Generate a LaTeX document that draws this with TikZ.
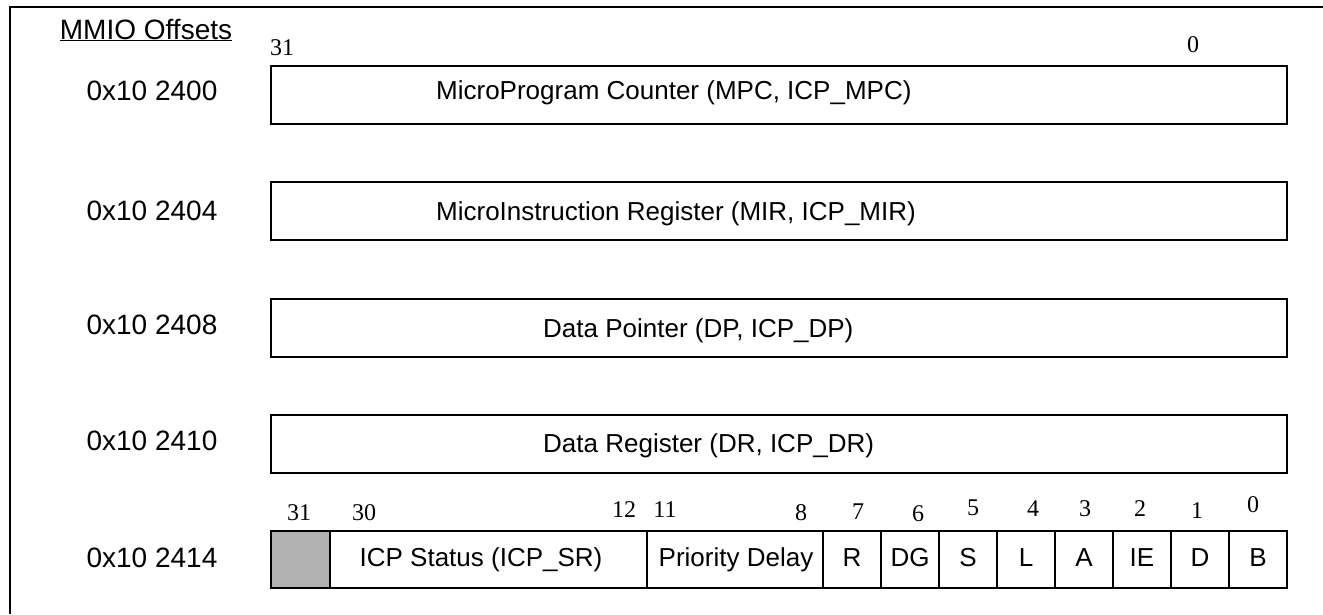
\documentclass[tikz,border=0pt]{standalone}
\usepackage{fontspec}
\newfontfamily\arialf{Liberation Sans}
\newfontfamily\timesf{Liberation Serif}
\definecolor{cellgray}{RGB}{178,178,178}
\begin{document}
\begin{tikzpicture}[x=1pt,y=-1pt,
  reg/.style={draw=black, line width=2.8pt, inner sep=0pt, outer sep=0pt, anchor=north west, minimum height=58pt},
  cell/.style={draw=black, line width=2.8pt, inner sep=0pt, outer sep=0pt, anchor=north west, minimum height=57pt},
  offs/.style={font=\arialf\fontsize{28}{32}\selectfont, inner sep=0pt, anchor=base},
  regtxt/.style={font=\arialf\fontsize{26}{30}\selectfont, inner sep=0pt, anchor=base west},
  celltxt/.style={font=\arialf\fontsize{26}{30}\selectfont, inner sep=0pt, anchor=base},
  bitno/.style={font=\timesf\fontsize{24}{28}\selectfont, inner sep=0pt, anchor=base}
]
\useasboundingbox (0,0) rectangle (1323,614);
% frame
\draw[line width=2.8pt] (10,614) -- (10,7) -- (1323,7);

% heading and offsets
\node[offs] (hdr) at (146,39) {\underline{MMIO Offsets}};
\node[offs] (o1) at (152,100) {0x10 2400};
\node[offs] (o2) at (152,220) {0x10 2404};
\node[offs] (o3) at (152,334) {0x10 2408};
\node[offs] (o4) at (152,450) {0x10 2410};
\node[offs] (o5) at (152,567) {0x10 2414};

% top bit numbers
\node[bitno] (t31) at (282,55) {31};
\node[bitno] (t0) at (1193,52) {0};

% full-width registers
\node[reg, minimum width=1016pt] (mpc) at (271,66) {};
\node[reg, minimum width=1016pt] (mir) at (271,182) {};
\node[reg, minimum width=1016pt] (dp) at (271,299) {};
\node[reg, minimum width=1016pt] (dr) at (271,415) {};
\node[regtxt] (mpct) at (436,99) {MicroProgram Counter (MPC, ICP\_MPC)};
\node[regtxt] (mirt) at (436,220.3) {MicroInstruction Register (MIR, ICP\_MIR)};
\node[regtxt] (dpt) at (543,337.3) {Data Pointer (DP, ICP\_DP)};
\node[regtxt] (drt) at (543,452.3) {Data Register (DR, ICP\_DR)};

% status register cells
\node[cell, fill=cellgray, minimum width=59pt] (c31) at (271,531) {};
\node[cell, minimum width=317pt] (csr) at (330,531) {};
\node[cell, minimum width=176pt] (cpd) at (647,531) {};
\node[cell, minimum width=58pt] (c7) at (823,531) {};
\node[cell, minimum width=58pt] (c6) at (881,531) {};
\node[cell, minimum width=58pt] (c5) at (939,531) {};
\node[cell, minimum width=58pt] (c4) at (997,531) {};
\node[cell, minimum width=58pt] (c3) at (1055,531) {};
\node[cell, minimum width=58pt] (c2) at (1113,531) {};
\node[cell, minimum width=58pt] (c1) at (1171,531) {};
\node[cell, minimum width=58pt] (c0) at (1229,531) {};

\node[celltxt] (srt) at (481,566.3) {ICP Status (ICP\_SR)};
\node[celltxt] (pdt) at (736,566.3) {Priority Delay};
\node[celltxt] (rt) at (852,566.3) {R};
\node[celltxt] (dgt) at (910,566.3) {DG};
\node[celltxt] (st) at (968,566.3) {S};
\node[celltxt] (lt) at (1026,566.3) {L};
\node[celltxt] (at) at (1084,566.3) {A};
\node[celltxt] (iet) at (1142,566.3) {IE};
\node[celltxt] (dt) at (1200,566.3) {D};
\node[celltxt] (bt) at (1258,566.3) {B};

% bottom bit numbers
\node[bitno] (b31) at (299,520) {31};
\node[bitno] (b30) at (364,520) {30};
\node[bitno] (b12) at (624,517) {12};
\node[bitno] (b11) at (665,517) {11};
\node[bitno] (b8) at (801,520) {8};
\node[bitno] (b7) at (858,519) {7};
\node[bitno] (b6) at (918,521) {6};
\node[bitno] (b5) at (973,515) {5};
\node[bitno] (b4) at (1033,516) {4};
\node[bitno] (b3) at (1085,516) {3};
\node[bitno] (b2) at (1140,516) {2};
\node[bitno] (b1) at (1197,518) {1};
\node[bitno] (b0) at (1253,512) {0};
\end{tikzpicture}
\end{document}
